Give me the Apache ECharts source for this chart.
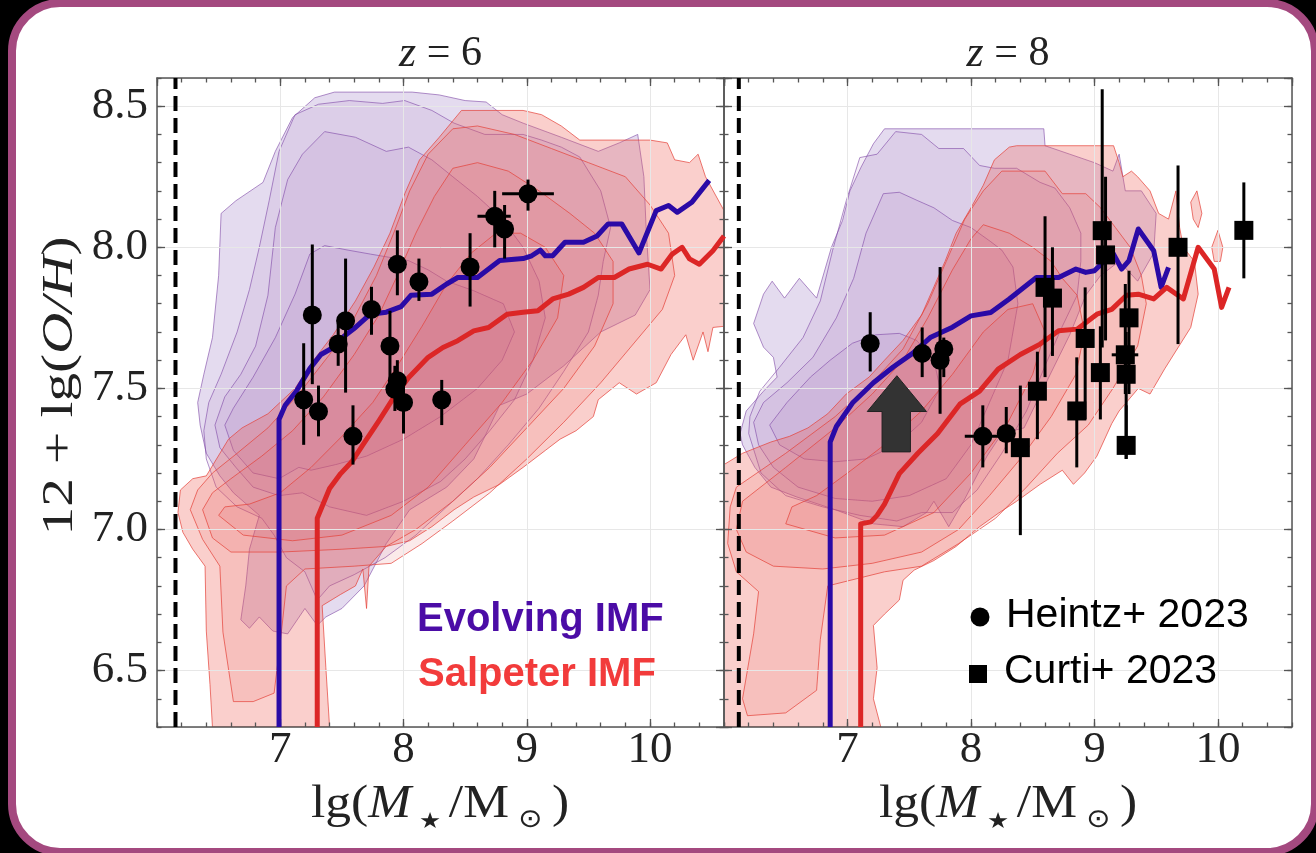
<!DOCTYPE html>
<html><head><meta charset="utf-8">
<script src="https://cdn.jsdelivr.net/npm/echarts@6/dist/echarts.min.js"></script>
<style>
html,body{margin:0;padding:0;background:#000;overflow:hidden;}
#frame{position:absolute;left:8px;top:-1px;width:1311px;height:857px;box-sizing:border-box;border:8px solid #a4497f;border-radius:52px;background:#fff;}
#chart{position:absolute;left:0;top:0;width:1316px;height:853px;}
</style></head>
<body><div id="frame"></div><div id="chart"></div>
<script>
// ---------- axis ranges ----------
const X0 = 6.0, X1 = 10.6, Y0 = 6.3, Y1 = 8.6;
const panelTitles = ['6', '8'];
const dashedX = [6.15, 6.12];

// ---------- median relations ----------
const evolvingZ6 = [[6.99,6.3],[6.99,7.39],[7.04,7.44],[7.13,7.49],[7.24,7.57],[7.33,7.62],[7.43,7.645],[7.52,7.686],[7.61,7.716],[7.73,7.763],[7.86,7.77],[7.98,7.79],[8.06,7.83],[8.23,7.834],[8.35,7.87],[8.44,7.893],[8.60,7.893],[8.69,7.923],[8.78,7.953],[8.97,7.96],[9.04,7.97],[9.11,7.99],[9.15,7.97],[9.21,7.97],[9.31,8.018],[9.46,8.018],[9.57,8.04],[9.66,8.083],[9.77,8.083],[9.91,7.98],[10.05,8.13],[10.15,8.148],[10.22,8.124],[10.34,8.16],[10.48,8.237]];
const salpeterZ6 = [[7.30,6.3],[7.30,7.04],[7.40,7.145],[7.49,7.198],[7.58,7.24],[7.67,7.30],[7.80,7.385],[7.92,7.467],[8.04,7.538],[8.20,7.61],[8.32,7.645],[8.44,7.669],[8.57,7.704],[8.69,7.716],[8.84,7.763],[8.97,7.77],[9.09,7.775],[9.21,7.817],[9.34,7.834],[9.46,7.858],[9.58,7.893],[9.71,7.893],[9.83,7.923],[9.98,7.94],[10.09,7.923],[10.18,7.976],[10.26,8.0],[10.32,7.959],[10.40,7.94],[10.51,7.988],[10.6,8.04]];
const evolvingZ8 = [[6.86,6.3],[6.86,7.31],[6.91,7.365],[7.04,7.448],[7.21,7.52],[7.37,7.576],[7.53,7.625],[7.67,7.68],[7.85,7.717],[8.00,7.757],[8.16,7.769],[8.31,7.817],[8.53,7.893],[8.71,7.893],[8.85,7.923],[8.93,7.911],[9.00,7.917],[9.11,7.964],[9.155,7.976],[9.22,7.923],[9.28,7.953],[9.355,8.065],[9.48,7.988],[9.54,7.858],[9.60,7.929]];
const salpeterZ8 = [[7.107,6.3],[7.107,7.02],[7.19,7.027],[7.24,7.05],[7.30,7.09],[7.42,7.198],[7.57,7.27],[7.73,7.34],[7.91,7.444],[8.07,7.49],[8.22,7.568],[8.40,7.62],[8.56,7.657],[8.71,7.704],[8.86,7.71],[9.02,7.763],[9.14,7.78],[9.26,7.83],[9.355,7.834],[9.48,7.817],[9.585,7.858],[9.72,7.817],[9.84,8.0],[9.97,7.923],[10.03,7.787],[10.09,7.858]];

// ---------- observations: [x, y, yLow, yHigh, xLow, xHigh] ----------
const heintzZ6 = [
 [9.01,8.19,8.13,8.24,8.80,9.22],[8.74,8.11,8.00,8.20,8.60,8.87],[8.82,8.065,7.96,8.15,null,null],
 [8.54,7.93,7.79,8.05,null,null],[8.125,7.878,7.81,7.96,null,null],[7.95,7.94,7.83,8.06,null,null],
 [7.74,7.78,7.69,7.86,null,null],[7.53,7.74,7.485,7.96,null,null],[7.26,7.76,7.515,8.01,null,null],
 [7.47,7.657,7.58,7.73,null,null],[7.89,7.65,7.525,7.775,null,null],[7.95,7.527,7.46,7.60,null,null],
 [7.93,7.497,7.42,7.58,7.86,8.01],[8.0,7.45,7.34,7.53,null,null],[8.31,7.46,7.37,7.53,null,null],
 [7.19,7.46,7.30,7.66,null,null],[7.31,7.418,7.33,7.51,null,null],[7.59,7.33,7.23,7.44,null,null]
];
const heintzZ8 = [
 [7.184,7.659,7.56,7.77,7.11,7.25],[7.605,7.624,7.54,7.716,null,null],[7.78,7.64,7.54,7.68,null,null],
 [7.75,7.60,7.41,7.93,null,null],[8.096,7.33,7.22,7.44,7.95,8.23],[8.286,7.34,7.27,7.434,null,null]
];
const curtiZ8 = [
 [9.063,8.059,7.645,8.56,null,null],[9.09,7.973,7.67,8.25,null,null],[8.60,7.858,7.54,8.11,null,null],
 [8.66,7.82,7.615,8.0,null,null],[9.677,8.0,7.657,8.29,null,null],[10.21,8.06,7.89,8.23,null,null],
 [9.28,7.75,7.48,7.917,null,null],[8.925,7.677,7.39,7.858,null,null],[9.25,7.619,7.48,7.87,9.14,9.355],
 [9.048,7.556,7.39,7.72,null,null],[9.257,7.55,7.25,7.70,null,null],[8.538,7.49,7.32,7.63,null,null],
 [8.857,7.42,7.22,7.61,null,null],[8.40,7.29,6.98,7.51,8.33,8.47],[9.257,7.298,7.25,7.44,null,null]
];
const arrowZ8 = [[7.40,7.545],[7.64,7.418],[7.51,7.418],[7.51,7.275],[7.28,7.275],[7.28,7.418],[7.16,7.418]];

// ---------- density contours (outer -> inner) ----------
const evolvingContoursZ6 = [
 [[7.44,8.55],[8.07,8.55],[8.29,8.54],[8.5,8.52],[8.67,8.515],[8.8,8.47],[8.97,8.44],[9.28,8.39],[9.58,8.34],[9.75,8.37],[9.9,8.4],[9.95,8.25],[9.97,8.05],[10.0,7.85],[9.88,7.76],[9.6,7.7],[9.3,7.58],[9.0,7.48],[8.78,7.44],[8.66,7.33],[8.57,7.25],[8.35,7.15],[8.05,7.07],[7.86,6.95],[7.68,6.8],[7.5,6.72],[7.37,6.69],[7.3,6.66],[7.2,6.72],[7.06,6.63],[6.94,6.64],[6.83,6.69],[6.75,6.65],[6.68,6.68],[6.72,6.8],[6.75,6.93],[6.83,7.05],[6.62,7.13],[6.51,7.19],[6.4,7.27],[6.35,7.37],[6.33,7.45],[6.38,7.55],[6.45,7.68],[6.5,7.9],[6.52,8.12],[6.64,8.165],[6.86,8.23],[6.96,8.34],[7.1,8.46],[7.28,8.53]],
 [[6.91,8.165],[6.99,8.34],[7.12,8.47],[7.31,8.507],[7.56,8.52],[7.83,8.51],[8.01,8.52],[8.23,8.485],[8.41,8.44],[8.66,8.40],[8.97,8.40],[9.12,8.38],[9.28,8.355],[9.43,8.32],[9.6,8.2],[9.68,8.07],[9.62,7.95],[9.58,7.83],[9.5,7.7],[9.3,7.56],[9.1,7.43],[8.85,7.3],[8.6,7.18],[8.35,7.08],[8.1,6.98],[7.85,6.9],[7.6,6.84],[7.4,6.8],[7.3,6.75],[7.2,6.85],[7.05,6.9],[6.95,6.98],[6.85,7.04],[6.65,7.08],[6.48,7.15],[6.4,7.25],[6.38,7.35],[6.42,7.45],[6.52,7.55],[6.65,7.7],[6.75,7.85],[6.83,8.0]],
 [[6.47,7.37],[6.55,7.47],[6.68,7.55],[6.8,7.65],[6.9,7.83],[6.96,8.07],[7.06,8.24],[7.18,8.33],[7.36,8.41],[7.61,8.39],[7.86,8.34],[8.04,8.355],[8.23,8.31],[8.4,8.25],[8.6,8.18],[8.8,8.1],[8.97,8.0],[9.1,7.88],[9.15,7.75],[9.05,7.6],[8.9,7.46],[8.7,7.35],[8.5,7.25],[8.3,7.17],[8.0,7.1],[7.7,7.05],[7.4,7.08],[7.18,7.13],[6.99,7.12],[6.78,7.15],[6.64,7.22],[6.51,7.29]],
 [[6.55,7.37],[6.62,7.43],[6.78,7.54],[6.96,7.68],[7.12,7.834],[7.24,7.976],[7.36,8.006],[7.55,7.99],[7.73,7.976],[8.04,7.953],[8.2,7.92],[8.35,7.88],[8.57,7.846],[8.81,7.8],[8.9,7.7],[8.8,7.6],[8.6,7.5],[8.3,7.4],[8.0,7.32],[7.7,7.26],[7.45,7.23],[7.25,7.21],[7.15,7.22],[6.99,7.18],[6.78,7.20],[6.62,7.28]]
];
const salpeterContoursZ6 = [
 [[6.45,6.30],[6.43,6.45],[6.40,6.64],[6.39,6.87],[6.29,6.93],[6.21,6.99],[6.17,7.06],[6.19,7.14],[6.29,7.18],[6.40,7.19],[6.58,7.32],[6.69,7.36],[6.90,7.41],[7.12,7.50],[7.27,7.60],[7.43,7.69],[7.61,7.81],[7.76,7.93],[7.89,8.05],[8.01,8.19],[8.13,8.31],[8.29,8.39],[8.47,8.485],[8.97,8.485],[9.12,8.47],[9.28,8.43],[9.43,8.38],[9.74,8.38],[10.0,8.38],[10.14,8.37],[10.2,8.31],[10.32,8.30],[10.39,8.33],[10.45,8.25],[10.6,8.13],[10.6,7.72],[10.51,7.716],[10.47,7.63],[10.43,7.7],[10.35,7.6],[10.29,7.69],[10.17,7.62],[10.05,7.52],[9.89,7.48],[9.75,7.52],[9.58,7.46],[9.54,7.40],[9.40,7.35],[9.27,7.32],[9.15,7.28],[8.97,7.22],[8.78,7.16],[8.57,7.115],[8.41,7.07],[8.23,7.01],[8.05,6.96],[7.86,6.94],[7.72,6.87],[7.70,6.72],[7.67,6.86],[7.61,6.80],[7.49,6.77],[7.34,6.73],[7.37,6.51],[7.40,6.30]],
 [[6.27,7.07],[6.37,6.965],[6.51,6.87],[6.535,6.636],[6.62,6.39],[6.78,6.39],[6.95,6.42],[7.0,6.6],[7.05,6.8],[7.2,6.86],[7.6,6.87],[7.9,6.88],[8.15,6.95],[8.4,7.03],[8.7,7.13],[9.0,7.25],[9.3,7.38],[9.6,7.52],[9.85,7.65],[10.1,7.78],[10.2,7.9],[10.15,8.05],[10.0,8.15],[9.8,8.25],[9.5,8.3],[9.2,8.35],[8.9,8.4],[8.6,8.43],[8.4,8.42],[8.2,8.33],[8.05,8.2],[7.92,8.05],[7.78,7.9],[7.6,7.75],[7.4,7.62],[7.15,7.48],[6.9,7.36],[6.65,7.27],[6.45,7.2],[6.33,7.14]],
 [[6.37,7.07],[6.45,6.97],[6.6,6.92],[7.0,6.92],[7.5,6.93],[7.86,6.94],[8.1,7.0],[8.4,7.1],[8.7,7.22],[9.0,7.36],[9.3,7.5],[9.55,7.65],[9.7,7.8],[9.7,7.95],[9.55,8.05],[9.35,8.12],[9.1,8.2],[8.85,8.27],[8.6,8.3],[8.4,8.28],[8.25,8.18],[8.1,8.05],[7.95,7.9],[7.8,7.76],[7.6,7.62],[7.35,7.47],[7.1,7.35],[6.85,7.26],[6.6,7.18],[6.45,7.13]],
 [[6.5,7.05],[6.7,6.98],[7.1,6.96],[7.5,6.98],[7.9,7.05],[8.2,7.15],[8.5,7.3],[8.8,7.45],[9.05,7.6],[9.25,7.75],[9.3,7.9],[9.15,8.0],[8.95,8.05],[8.75,8.05],[8.55,7.98],[8.35,7.87],[8.15,7.72],[7.95,7.58],[7.75,7.45],[7.5,7.33],[7.25,7.22],[7.0,7.13],[6.75,7.09],[6.55,7.08]]
];
const evolvingContoursZ8 = [
 [[6.13,7.34],[6.18,7.42],[6.32,7.49],[6.43,7.54],[6.40,7.61],[6.32,7.646],[6.24,7.73],[6.32,7.834],[6.39,7.88],[6.49,7.82],[6.61,7.89],[6.75,7.82],[6.87,8.0],[6.96,8.095],[7.02,8.2],[7.11,8.284],[7.21,8.367],[7.30,8.42],[8.59,8.42],[8.6,8.36],[8.8,8.33],[9.0,8.3],[9.15,8.27],[9.2,8.33],[9.25,8.2],[9.38,8.2],[9.5,8.12],[9.48,7.98],[9.35,7.88],[9.2,7.95],[9.05,7.9],[8.93,7.83],[8.8,7.69],[8.62,7.53],[8.43,7.36],[8.25,7.34],[8.13,7.26],[7.94,7.10],[7.82,7.01],[7.7,7.1],[7.64,7.06],[7.45,7.01],[7.21,7.02],[6.9,7.07],[6.59,7.115],[6.38,7.15],[6.25,7.22],[6.15,7.3]],
 [[6.20,7.34],[6.21,7.40],[6.29,7.49],[6.45,7.575],[6.64,7.68],[6.78,7.81],[6.88,7.99],[6.99,8.165],[7.10,8.318],[7.24,8.33],[7.39,8.41],[7.60,8.40],[7.74,8.35],[7.94,8.35],[8.07,8.29],[8.19,8.28],[8.37,8.28],[8.56,8.23],[8.68,8.21],[8.80,8.14],[8.89,8.05],[8.89,7.95],[8.86,7.83],[8.74,7.72],[8.6,7.58],[8.45,7.42],[8.25,7.27],[8.05,7.14],[7.85,7.06],[7.6,7.06],[7.4,7.03],[7.1,7.05],[6.8,7.08],[6.5,7.12],[6.3,7.2]],
 [[6.24,7.38],[6.32,7.45],[6.51,7.52],[6.72,7.61],[6.91,7.75],[7.05,7.89],[7.15,8.05],[7.29,8.19],[7.42,8.195],[7.57,8.165],[7.70,8.14],[7.85,8.095],[8.0,8.07],[8.16,8.02],[8.25,7.99],[8.34,7.93],[8.38,7.8],[8.3,7.6],[8.15,7.45],[8.0,7.3],[7.8,7.18],[7.5,7.12],[7.2,7.1],[6.9,7.11],[6.6,7.15],[6.4,7.22],[6.28,7.3]],
 [[6.37,7.37],[6.51,7.45],[6.70,7.54],[6.86,7.60],[7.04,7.66],[7.23,7.69],[7.42,7.695],[7.56,7.67],[7.7,7.6],[7.75,7.5],[7.6,7.38],[7.4,7.3],[7.15,7.25],[6.9,7.24],[6.65,7.25],[6.45,7.3]]
];
const salpeterContoursZ8 = [
 [[6.0,6.3],[6.0,7.23],[6.15,7.27],[6.38,7.31],[6.53,7.33],[6.68,7.36],[6.84,7.41],[6.99,7.48],[7.175,7.54],[7.30,7.60],[7.45,7.67],[7.60,7.76],[7.70,7.86],[7.79,7.95],[7.88,8.05],[8.0,8.14],[8.10,8.22],[8.19,8.31],[8.31,8.355],[8.37,8.36],[9.155,8.36],[9.2,8.3],[9.23,8.25],[9.3,8.27],[9.35,8.25],[9.45,8.2],[9.52,8.12],[9.6,8.1],[9.66,8.2],[9.69,8.07],[9.72,8.0],[9.81,7.95],[9.84,7.834],[9.78,7.716],[9.57,7.57],[9.45,7.48],[9.355,7.50],[9.20,7.42],[9.14,7.375],[9.02,7.26],[8.92,7.2],[8.83,7.16],[8.74,7.21],[8.56,7.16],[8.37,7.10],[8.22,7.057],[8.07,7.01],[7.88,6.94],[7.70,6.89],[7.54,6.856],[7.45,6.82],[7.42,6.75],[7.30,6.70],[7.21,6.66],[7.24,6.51],[7.21,6.40],[7.27,6.3]],
 [[6.05,7.08],[6.1,7.15],[6.5,7.27],[6.9,7.4],[7.2,7.52],[7.45,7.64],[7.65,7.8],[7.8,7.95],[7.95,8.1],[8.1,8.2],[8.25,8.27],[8.4,8.27],[8.6,8.27],[8.74,8.19],[8.93,8.19],[9.05,8.14],[9.17,8.07],[9.29,8.0],[9.38,7.9],[9.42,7.8],[9.35,7.65],[9.15,7.5],[8.95,7.37],[8.7,7.27],[8.45,7.15],[8.2,7.04],[7.9,6.95],[7.6,6.87],[7.3,6.85],[6.84,6.80],[6.78,6.61],[6.75,6.43],[6.5,6.35],[6.19,6.34],[6.15,6.40],[6.24,6.63],[6.28,6.78],[6.1,6.85],[6.03,6.95]],
 [[6.1,7.0],[6.15,7.1],[6.5,7.22],[6.9,7.36],[7.2,7.48],[7.45,7.6],[7.65,7.75],[7.85,7.92],[8.0,8.03],[8.1,8.08],[8.31,8.05],[8.5,8.0],[8.65,7.95],[8.74,7.89],[8.86,7.83],[8.92,7.7],[8.85,7.55],[8.65,7.4],[8.4,7.25],[8.15,7.12],[7.9,7.0],[7.6,6.92],[7.2,6.88],[6.8,6.86],[6.4,6.87],[6.18,6.92]],
 [[6.5,7.02],[6.9,6.97],[7.3,6.98],[7.7,7.06],[8.0,7.2],[8.3,7.38],[8.5,7.55],[8.6,7.7],[8.5,7.8],[8.3,7.78],[8.1,7.7],[7.85,7.55],[7.6,7.42],[7.3,7.3],[7.0,7.2],[6.75,7.12],[6.55,7.08]],
 [[9.78,8.16],[9.83,8.2],[9.87,8.12],[9.84,8.07],[9.8,8.1]],
 [[9.95,8.0],[10.0,8.06],[10.04,8.0],[10.02,7.95],[9.97,7.95]]
];

// ---------- styles ----------
const PURPLE_FILLS = ['rgba(128,86,178,0.21)', 'rgba(140,80,170,0.09)', 'rgba(140,80,170,0.09)', 'rgba(140,80,170,0.09)'];
const PURPLE_EDGE = 'rgba(125,70,165,0.6)';
const RED_FILLS = ['rgba(238,96,86,0.30)', 'rgba(225,80,80,0.12)', 'rgba(220,80,85,0.12)', 'rgba(215,80,90,0.12)', 'rgba(238,96,86,0.30)', 'rgba(238,96,86,0.30)'];
const RED_EDGE = 'rgba(228,64,56,0.7)';
const BLUE_LINE = '#2a0aa6', RED_LINE = '#dc2626';
const AX = '#555';
const SERIF = 'Liberation Serif';

function clamp(v, a, b) { return Math.max(a, Math.min(b, v)); }

function polySeries(list, gi, fills, stroke, z) {
  return {
    type: 'custom', xAxisIndex: gi, yAxisIndex: gi, z: z, clip: true, silent: true,
    data: list.map((p, i) => [p[0][0], p[0][1], i]),
    renderItem: function (params, api) {
      const k = api.value(2);
      const poly = list[k];
      const pts = poly.map(p => api.coord([clamp(p[0], X0, X1), clamp(p[1], Y0, Y1)]));
      return { type: 'polygon', shape: { points: pts }, style: { fill: fills[Math.min(k, fills.length - 1)], stroke: stroke, lineWidth: 1 } };
    }
  };
}
function errSeries(list, gi) {
  return {
    type: 'custom', xAxisIndex: gi, yAxisIndex: gi, z: 8, silent: true,
    data: list,
    renderItem: function (params, api) {
      const x = api.value(0), y = api.value(1);
      const yl = api.value(2), yh = api.value(3), xl = api.value(4), xh = api.value(5);
      const ch = [];
      const st = { stroke: '#000', lineWidth: 3 };
      if (isFinite(yl) && isFinite(yh)) {
        const a = api.coord([x, clamp(yl, Y0, Y1)]), b = api.coord([x, clamp(yh, Y0, Y1)]);
        ch.push({ type: 'line', shape: { x1: a[0], y1: a[1], x2: b[0], y2: b[1] }, style: st });
      }
      if (isFinite(xl) && isFinite(xh)) {
        const a = api.coord([xl, y]), b = api.coord([xh, y]);
        ch.push({ type: 'line', shape: { x1: a[0], y1: a[1], x2: b[0], y2: b[1] }, style: st });
      }
      return { type: 'group', children: ch };
    }
  };
}
function lineSeries(data, gi, color, width, dash) {
  return {
    type: 'line', xAxisIndex: gi, yAxisIndex: gi, data: data, showSymbol: false, symbol: 'none',
    z: dash ? 4 : 6, silent: true, clip: true, animation: false,
    lineStyle: { color: color, width: width, type: dash ? [15, 7] : 'solid', cap: 'butt', join: 'round' }
  };
}
function scatterSeries(data, gi, symbol) {
  return {
    type: 'scatter', xAxisIndex: gi, yAxisIndex: gi, data: data.map(d => [d[0], d[1]]),
    symbol: symbol, symbolSize: 19, itemStyle: { color: '#000', opacity: 1 }, z: 9, silent: true
  };
}

const grids = [
  { left: 157, top: 78, width: 567, height: 649 },
  { left: 724, top: 78, width: 568, height: 649 }
];

function xAx(gi, pos, major, labels) {
  return {
    type: 'value', gridIndex: gi, position: pos, min: X0, max: X1, interval: major ? 1 : 0.2,
    axisLine: { show: major, onZero: false, lineStyle: { color: AX, width: 1.5 } },
    axisTick: { show: true, inside: true, length: major ? 8 : 4.5, lineStyle: { color: AX, width: 1.3 } },
    axisLabel: { show: labels, showMinLabel: false, showMaxLabel: false, margin: 1,
      fontFamily: SERIF, fontSize: 45, color: '#222' },
    splitLine: { show: labels, lineStyle: { color: '#e7e7e7', width: 1 } },
    z: 3
  };
}
function yAx(gi, pos, major, labels, grid) {
  const o = {
    type: 'value', gridIndex: gi, position: pos, min: Y0, max: Y1,
    axisLine: { show: major, onZero: false, lineStyle: { color: AX, width: 1.5 } },
    axisTick: { show: true, inside: true, length: major ? 8 : 4.5, lineStyle: { color: AX, width: 1.3 } },
    axisLabel: { show: labels, showMinLabel: false, showMaxLabel: false, margin: 9,
      fontFamily: SERIF, fontSize: 45, color: '#222', formatter: v => Number(v).toFixed(1) },
    splitLine: { show: grid, lineStyle: { color: '#e7e7e7', width: 1 } },
    z: 3
  };
  if (major) { o.minInterval = 0.5; o.maxInterval = 0.5; o.splitNumber = 5; }
  else { o.interval = 0.1; }
  return o;
}

const xAxes = [
  xAx(0, 'bottom', true, true), xAx(1, 'bottom', true, true),
  xAx(0, 'bottom', false, false), xAx(1, 'bottom', false, false),
  xAx(0, 'top', true, false), xAx(1, 'top', true, false),
  xAx(0, 'top', false, false), xAx(1, 'top', false, false)
];
const yAxes = [
  yAx(0, 'left', true, true, true), yAx(1, 'left', true, false, true),
  yAx(0, 'left', false, false, false), yAx(1, 'left', false, false, false),
  yAx(0, 'right', true, false, false), yAx(1, 'right', true, false, false),
  yAx(0, 'right', false, false, false), yAx(1, 'right', false, false, false)
];

const series = [
  polySeries(evolvingContoursZ6, 0, PURPLE_FILLS, PURPLE_EDGE, 1),
  polySeries(salpeterContoursZ6, 0, RED_FILLS, RED_EDGE, 2),
  polySeries(evolvingContoursZ8, 1, PURPLE_FILLS, PURPLE_EDGE, 1),
  polySeries(salpeterContoursZ8, 1, RED_FILLS, RED_EDGE, 2),
  lineSeries([[dashedX[0], Y0], [dashedX[0], Y1]], 0, '#000', 4, true),
  lineSeries([[dashedX[1], Y0], [dashedX[1], Y1]], 1, '#000', 4, true),
  lineSeries(evolvingZ6, 0, BLUE_LINE, 5, false),
  lineSeries(salpeterZ6, 0, RED_LINE, 5, false),
  lineSeries(evolvingZ8, 1, BLUE_LINE, 5, false),
  lineSeries(salpeterZ8, 1, RED_LINE, 5, false),
  errSeries(heintzZ6, 0), errSeries(heintzZ8, 1), errSeries(curtiZ8, 1),
  scatterSeries(heintzZ6, 0, 'circle'), scatterSeries(heintzZ8, 1, 'circle'), scatterSeries(curtiZ8, 1, 'rect'),
  {
    type: 'custom', xAxisIndex: 1, yAxisIndex: 1, z: 10, silent: true,
    data: [[arrowZ8[0][0], arrowZ8[0][1]]],
    renderItem: function (params, api) {
      return { type: 'polygon', shape: { points: arrowZ8.map(p => api.coord(p)) },
        style: { fill: '#333333', stroke: '#222', lineWidth: 1 } };
    }
  }
];

const xNameRich = {
  n: { fontFamily: SERIF, fontSize: 46, fill: '#222', lineHeight: 56 },
  i: { fontFamily: SERIF, fontSize: 46, fontStyle: 'italic', fill: '#222', lineHeight: 56 },
  s: { fontFamily: 'DejaVu Sans', fontSize: 22, fill: '#222', lineHeight: 22, verticalAlign: 'bottom' },
  o: { fontFamily: 'DejaVu Sans', fontSize: 26, fill: '#222', lineHeight: 24, verticalAlign: 'bottom' }
};
const xNameText = '{n|lg(}{i|M}{s| ★ }{n|/M}{o| ⊙ }{n|)}';

function titleEl(cx, label) {
  return { type: 'text', x: cx, y: 54, z: 20,
    style: { text: '{i|z} = ' + label, fontFamily: SERIF, fontSize: 42, fill: '#222',
      align: 'center', verticalAlign: 'middle',
      rich: { i: { fontFamily: SERIF, fontSize: 44, fontStyle: 'italic', fill: '#222' } } } };
}

const graphic = [
  titleEl(440.5, panelTitles[0]), titleEl(1008, panelTitles[1]),
  { type: 'text', x: 440, y: 805, z: 20, scaleX: 1.12,
    style: { text: xNameText, rich: xNameRich, align: 'center', verticalAlign: 'middle', fill: '#222' } },
  { type: 'text', x: 1008, y: 805, z: 20, scaleX: 1.12,
    style: { text: xNameText, rich: xNameRich, align: 'center', verticalAlign: 'middle', fill: '#222' } },
  { type: 'text', x: 60, y: 386, z: 20, rotation: Math.PI / 2, scaleX: 1.27,
    style: { text: '{n|12 + lg(}{i|O/H}{n|)}', align: 'center', verticalAlign: 'middle',
      rich: { n: { fontFamily: SERIF, fontSize: 45, fill: '#222' },
              i: { fontFamily: SERIF, fontSize: 45, fontStyle: 'italic', fill: '#222' } } } },
  { type: 'text', x: 417, y: 620, z: 20,
    style: { text: 'Evolving IMF', fontFamily: 'Liberation Sans', fontWeight: 'bold', fontSize: 40,
      fill: '#4b0ca6', align: 'left', verticalAlign: 'middle' } },
  { type: 'text', x: 418, y: 675, z: 20,
    style: { text: 'Salpeter IMF', fontFamily: 'Liberation Sans', fontWeight: 'bold', fontSize: 40,
      fill: '#f23b3b', align: 'left', verticalAlign: 'middle' } },
  { type: 'circle', shape: { cx: 980, cy: 617, r: 9.5 }, style: { fill: '#000' }, z: 20 },
  { type: 'text', x: 1006, y: 615.5, z: 20,
    style: { text: 'Heintz+ 2023', fontFamily: 'Liberation Sans', fontSize: 41, fill: '#000',
      align: 'left', verticalAlign: 'middle' } },
  { type: 'rect', shape: { x: 969, y: 665, width: 18, height: 18 }, style: { fill: '#000' }, z: 20 },
  { type: 'text', x: 1004, y: 672, z: 20,
    style: { text: 'Curti+ 2023', fontFamily: 'Liberation Sans', fontSize: 41, fill: '#000',
      align: 'left', verticalAlign: 'middle' } }
];

const chart = echarts.init(document.getElementById('chart'), null, { renderer: 'canvas' });
chart.setOption({
  backgroundColor: 'transparent',
  animation: false,
  grid: grids,
  xAxis: xAxes,
  yAxis: yAxes,
  series: series,
  graphic: { elements: graphic }
});
</script>
</body></html>
